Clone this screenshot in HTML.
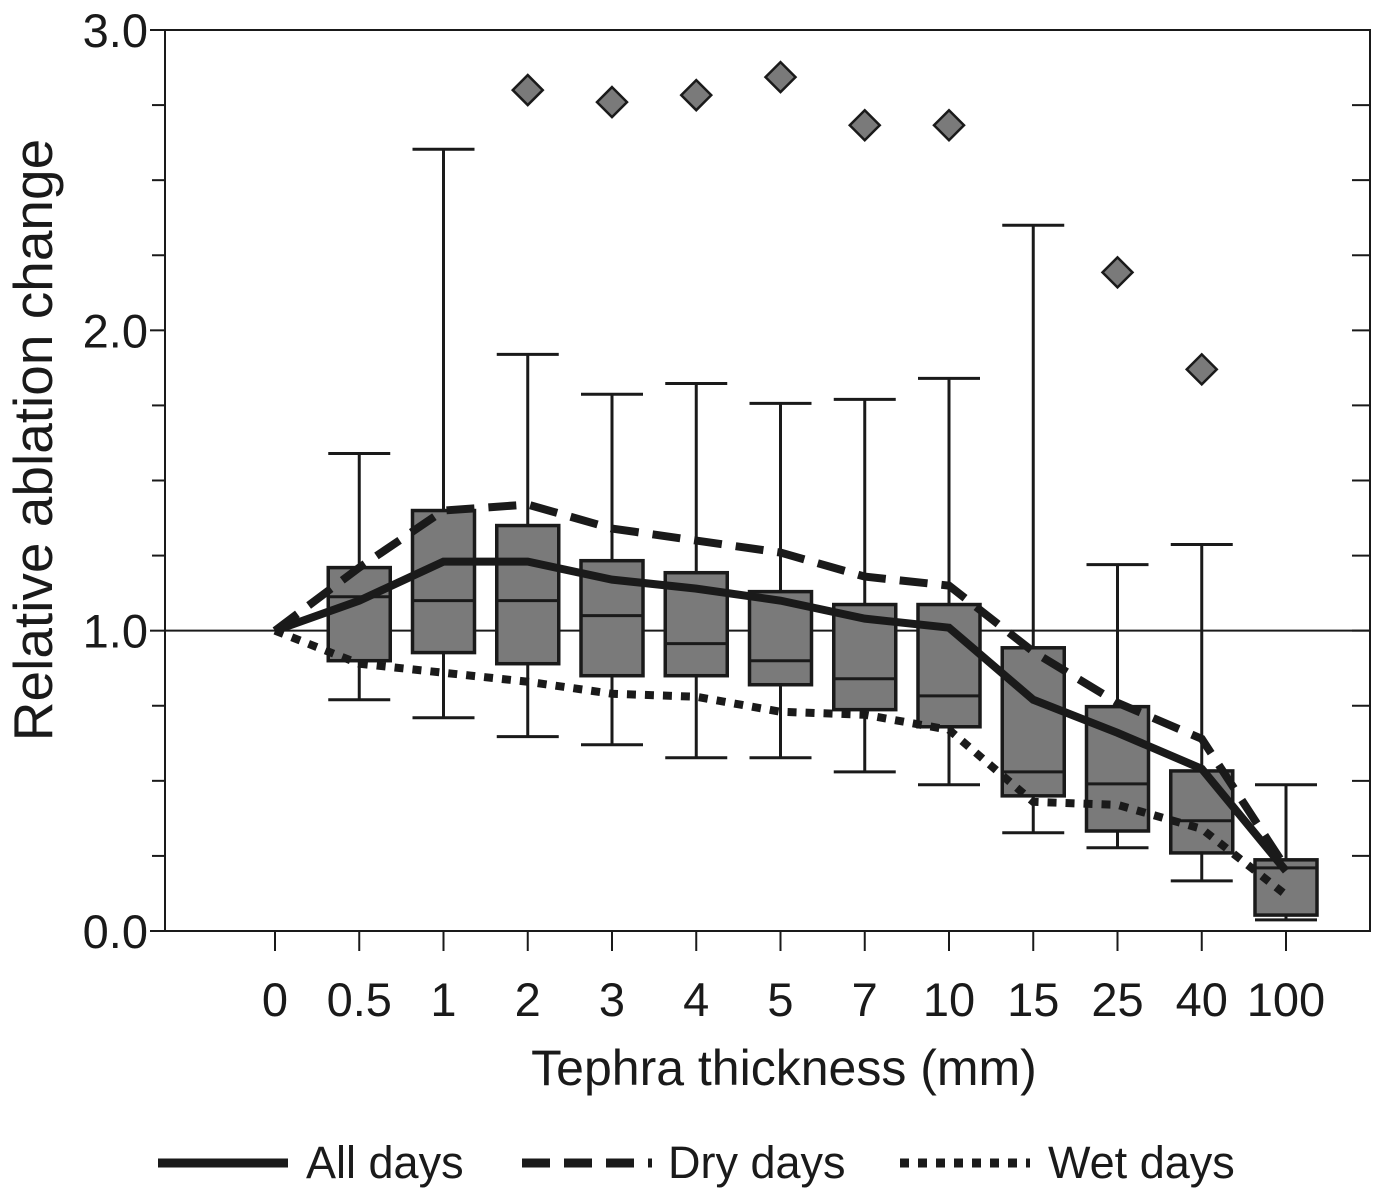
<!DOCTYPE html>
<html><head><meta charset="utf-8"><style>body{margin:0;background:#fff}svg{display:block}text{font-family:"Liberation Sans",sans-serif;fill:#1a1a1a}</style></head>
<body>
<svg id="chart" width="1400" height="1196"></svg>
<script>
const categories=["0","0.5","1","2","3","4","5","7","10","15","25","40","100"];
const boxQ3=[null,1.21,1.40,1.35,1.233,1.193,1.13,1.087,1.087,0.943,0.747,0.533,0.237];
const boxQ1=[null,0.90,0.927,0.89,0.85,0.85,0.82,0.737,0.68,0.45,0.333,0.26,0.053];
const boxMed=[null,1.113,1.10,1.10,1.05,0.957,0.90,0.84,0.783,0.53,0.49,0.367,0.21];
const whiskHi=[null,1.59,2.603,1.92,1.787,1.823,1.757,1.77,1.84,2.35,1.22,1.287,0.487];
const whiskLo=[null,0.77,0.71,0.647,0.62,0.577,0.577,0.53,0.487,0.327,0.277,0.167,0.037];
const outliers=[null,null,null,2.80,2.76,2.783,2.843,2.683,2.683,null,2.193,1.87,null];
const allDays=[1.0,1.10,1.23,1.23,1.17,1.14,1.10,1.04,1.01,0.77,0.66,0.54,0.20];
const dryDays=[1.0,1.21,1.40,1.42,1.34,1.30,1.26,1.18,1.15,0.93,0.76,0.64,0.21];
const wetDays=[1.0,0.89,0.86,0.83,0.79,0.78,0.73,0.72,0.67,0.43,0.42,0.34,0.12];
const yTickLabels=["0.0","1.0","2.0","3.0"];

const svg=document.getElementById('chart');
const NS="http://www.w3.org/2000/svg";
const L=165,R=1370,T=30,B=931;
const x=i=>275+i*84.25;
const y=v=>B-(v/3)*(B-T);
function mk(tag,attrs,name){const e=document.createElementNS(NS,tag);for(const k in attrs)e.setAttribute(k,attrs[k]);


svg.appendChild(e);return e;}
mk('rect',{x:L,y:T,width:R-L,height:B-T,fill:'none',stroke:'#1a1a1a','stroke-width':2},'plot-frame');
for(let k=0;k<=12;k++){const v=k*0.25;const yy=y(v);const major=k%4===0;
mk('line',{x1:major?150:152,x2:L,y1:yy,y2:yy,stroke:'#1a1a1a','stroke-width':2},'y-tick');
mk('line',{x1:R-18,x2:R,y1:yy,y2:yy,stroke:'#1a1a1a','stroke-width':2},'y-tick-right');}
yTickLabels.forEach((t,i)=>{const e=mk('text',{x:148,y:y(i)+17,'text-anchor':'end','font-size':47},'y-tick-label');e.textContent=t;});
mk('line',{x1:L,x2:R,y1:y(1),y2:y(1),stroke:'#1a1a1a','stroke-width':2},'reference-line');
categories.forEach((c,i)=>{mk('line',{x1:x(i),x2:x(i),y1:B,y2:B+20,stroke:'#1a1a1a','stroke-width':2},'x-tick');
const e=mk('text',{x:x(i),y:1016,'text-anchor':'middle','font-size':47},'x-tick-label');e.textContent=c;});
const hw=31;
categories.forEach((c,i)=>{if(boxQ3[i]==null)return;const cx=x(i);
mk('line',{x1:cx,x2:cx,y1:y(whiskHi[i]),y2:y(boxQ3[i]),stroke:'#1a1a1a','stroke-width':3},'whisker-upper');
mk('line',{x1:cx,x2:cx,y1:y(boxQ1[i]),y2:y(whiskLo[i]),stroke:'#1a1a1a','stroke-width':3},'whisker-lower');
mk('line',{x1:cx-hw,x2:cx+hw,y1:y(whiskHi[i]),y2:y(whiskHi[i]),stroke:'#1a1a1a','stroke-width':3},'whisker-cap');
mk('line',{x1:cx-hw,x2:cx+hw,y1:y(whiskLo[i]),y2:y(whiskLo[i]),stroke:'#1a1a1a','stroke-width':3},'whisker-cap');
mk('rect',{x:cx-hw,y:y(boxQ3[i]),width:2*hw,height:y(boxQ1[i])-y(boxQ3[i]),fill:'#7a7a7a',stroke:'#1a1a1a','stroke-width':3.5},'box-'+c);
mk('line',{x1:cx-hw,x2:cx+hw,y1:y(boxMed[i]),y2:y(boxMed[i]),stroke:'#1a1a1a','stroke-width':3},'median-'+c);
if(outliers[i]!=null){const oy=y(outliers[i]);
mk('polygon',{points:`${cx},${oy-15} ${cx+15},${oy} ${cx},${oy+15} ${cx-15},${oy}`,fill:'#7a7a7a',stroke:'#1a1a1a','stroke-width':2.5},'outlier-'+c);}
});
function line(arr,dash,name){mk('polyline',{points:arr.map((v,i)=>x(i)+','+y(v)).join(' '),fill:'none',stroke:'#1a1a1a','stroke-width':8,'stroke-dasharray':dash},name);}
line(dryDays,'28 14','dry-days-line');
line(wetDays,'9 9','wet-days-line');
line(allDays,'none','all-days-line');
let e=mk('text',{x:784,y:1085,'text-anchor':'middle','font-size':50},'x-axis-title');e.textContent='Tephra thickness (mm)';
e=mk('text',{x:0,y:0,'text-anchor':'middle','font-size':55,transform:'translate(52,440) rotate(-90)'},'y-axis-title');e.textContent='Relative ablation change';
mk('line',{x1:158,x2:288,y1:1163,y2:1163,stroke:'#1a1a1a','stroke-width':9},'legend-all-days-swatch');
e=mk('text',{x:306,y:1178,'font-size':45},'legend-all-days-label');e.textContent='All days';
mk('line',{x1:522,x2:652,y1:1163,y2:1163,stroke:'#1a1a1a','stroke-width':9,'stroke-dasharray':'28 14'},'legend-dry-days-swatch');
e=mk('text',{x:668,y:1178,'font-size':45},'legend-dry-days-label');e.textContent='Dry days';
mk('line',{x1:900,x2:1030,y1:1163,y2:1163,stroke:'#1a1a1a','stroke-width':9,'stroke-dasharray':'9 9'},'legend-wet-days-swatch');
e=mk('text',{x:1048,y:1178,'font-size':45},'legend-wet-days-label');e.textContent='Wet days';
</script>
</body></html>
